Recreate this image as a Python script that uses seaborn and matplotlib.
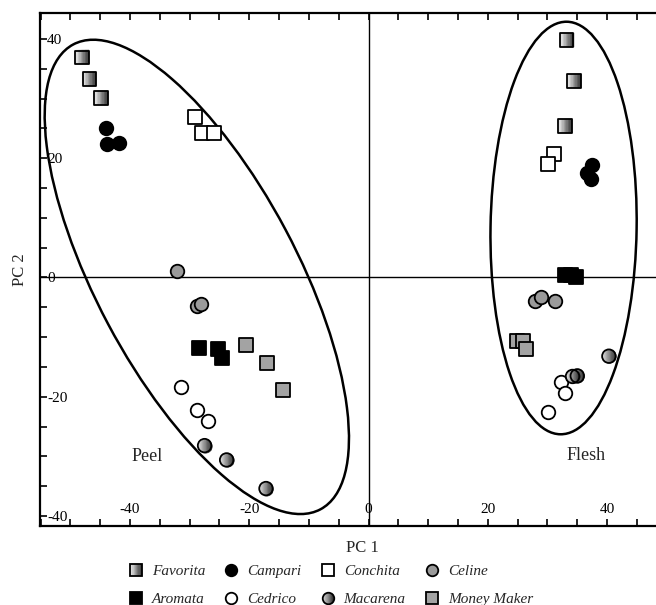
import numpy as np
import pandas as pd
import matplotlib
matplotlib.use("Agg")
import matplotlib.pyplot as plt
from matplotlib.path import Path
from matplotlib.patches import Ellipse
from matplotlib.lines import Line2D
from matplotlib.legend_handler import HandlerTuple
from matplotlib.ticker import MultipleLocator, FuncFormatter
import seaborn as sns

# PCA scores (peel cluster left, flesh cluster right)
favorita_x = [-48.0, -46.8, -44.9, 33.2, 34.5, 33.0]
favorita_y = [36.9, 33.3, 30.1, 39.9, 32.9, 25.4]
campari_x = [-44.1, -43.9, -41.9, 37.5, 36.6, 37.3]
campari_y = [25.0, 22.4, 22.5, 18.9, 17.6, 16.6]
conchita_x = [-29.1, -27.9, -26.0, 31.1, 30.1]
conchita_y = [27.0, 24.2, 24.2, 20.7, 19.0]
celine_x = [-32.2, -28.8, -28.1, 27.9, 28.9, 31.2]
celine_y = [1.1, -4.7, -4.4, -3.9, -3.3, -3.9]
aromata_x = [-28.4, -25.2, -24.5, 33.0, 34.0, 34.8]
aromata_y = [-11.9, -12.0, -13.5, 0.5, 0.4, 0.0]
cedrico_x = [-31.5, -28.8, -26.9, 32.2, 32.9, 30.1]
cedrico_y = [-18.3, -22.3, -24.0, -17.6, -19.4, -22.5]
macarena_x = [-27.5, -23.8, -17.2, 40.3, 34.2, 35.0]
macarena_y = [-28.2, -30.6, -35.4, -13.2, -16.6, -16.5]
moneymaker_x = [-20.5, -17.1, -14.4, 24.9, 25.9, 26.4]
moneymaker_y = [-11.3, -14.4, -18.8, -10.6, -10.6, -12.0]

varieties = ["Favorita", "Campari", "Conchita", "Celine",
             "Aromata", "Cedrico", "Macarena", "Money Maker"]
xs = [favorita_x, campari_x, conchita_x, celine_x,
      aromata_x, cedrico_x, macarena_x, moneymaker_x]
ys = [favorita_y, campari_y, conchita_y, celine_y,
      aromata_y, cedrico_y, macarena_y, moneymaker_y]

# marker, fill (None = gradient)
styles = {
    "Favorita": ("s", None),
    "Campari": ("o", "black"),
    "Conchita": ("s", "white"),
    "Celine": ("o", "#9a9a9a"),
    "Aromata": ("s", "black"),
    "Cedrico": ("o", "white"),
    "Macarena": ("o", None),
    "Money Maker": ("s", "#a3a3a3"),
}
gradients = {"Favorita": ("#f4f4f4", "#3a3a3a"), "Macarena": ("#d6d6d6", "#2a2a2a")}

df = pd.concat([pd.DataFrame({"variety": v, "PC1": x, "PC2": y})
                for v, x, y in zip(varieties, xs, ys)], ignore_index=True)


def stripe_paths(shape, n=10):
    # vertical slices of a square / circle marker, used to fake a gradient fill
    edges = np.linspace(-1, 1, n + 1)
    paths = []
    for x0, x1 in zip(edges[:-1], edges[1:]):
        if shape == "s":
            verts = [(x0, -1), (x1, -1), (x1, 1), (x0, 1)]
        else:
            xx = np.linspace(x0, x1, 8)
            top = np.sqrt(np.clip(1 - xx ** 2, 0, None))
            verts = list(zip(xx, top)) + list(zip(xx[::-1], -top[::-1]))
        # the lone anchor point keeps the same normalisation for all slices
        v = [(1, 1)] + verts + [verts[0]]
        codes = [Path.MOVETO, Path.MOVETO] + [Path.LINETO] * (len(verts) - 1) + [Path.CLOSEPOLY]
        paths.append(Path(v, codes))
    return paths


def stripe_colors(c0, c1, n=10):
    a = np.array(matplotlib.colors.to_rgb(c0))
    b = np.array(matplotlib.colors.to_rgb(c1))
    return [tuple(a + (b - a) * t) for t in np.linspace(0, 1, n)]


sns.set_style("ticks")
plt.rcParams["font.family"] = ["Liberation Serif", "DejaVu Serif"]

fig = plt.figure(figsize=(6.56, 6.05), dpi=100)
ax = fig.add_axes([40 / 656, 79 / 605, 616 / 656, 513 / 605])

ax.axhline(0, color="black", lw=1.0, zorder=0.5)
ax.axvline(0, color="black", lw=1.0, zorder=0.5)

ax.add_patch(Ellipse((-28.8, 0.1), 88.3, 33.7, angle=118, fill=False, lw=1.8, color="black", zorder=1.5))
ax.add_patch(Ellipse((32.7, 8.3), 69.2, 24.5, angle=89.1, fill=False, lw=1.8, color="black", zorder=1.5))

for v in varieties:
    sub = df[df["variety"] == v]
    marker, fill = styles[v]
    size = 100 if marker == "s" else 95
    if fill is None:
        c0, c1 = gradients[v]
        for p, c in zip(stripe_paths(marker), stripe_colors(c0, c1)):
            sns.scatterplot(data=sub, x="PC1", y="PC2", marker=p, s=size, color=c,
                            edgecolor=c, linewidth=0.3, ax=ax, legend=False, zorder=2)
        sns.scatterplot(data=sub, x="PC1", y="PC2", marker=marker, s=size, facecolor="none",
                        edgecolor="black", linewidth=1.3, ax=ax, legend=False, zorder=2)
    else:
        sns.scatterplot(data=sub, x="PC1", y="PC2", marker=marker, s=size, color=fill,
                        edgecolor="black", linewidth=1.3, ax=ax, legend=False, zorder=2)

ax.text(-37.2, -30.0, "Peel", fontsize=13, ha="center", va="center")
ax.text(36.5, -29.9, "Flesh", fontsize=13, ha="center", va="center")

ax.set_xlim(-55.1, 48.2)
ax.set_ylim(-41.68, 44.36)
fmt = FuncFormatter(lambda val, pos: str(int(round(val))) if int(round(val)) % 20 == 0 else "")
for axis in (ax.xaxis, ax.yaxis):
    axis.set_major_locator(MultipleLocator(5))
    axis.set_major_formatter(fmt)
ax.tick_params(direction="in", length=5, width=1.2, top=True, right=False, labelsize=11, colors="black")
ax.tick_params(axis="y", pad=-5)
ax.tick_params(axis="x", pad=-7)
plt.setp(ax.get_yticklabels(), ha="left")
plt.setp(ax.get_xticklabels(), va="bottom")
for side in ("left", "bottom", "top"):
    ax.spines[side].set_linewidth(1.6)
    ax.spines[side].set_color("black")
ax.spines["right"].set_visible(False)

ax.set_xlabel("PC 1", fontsize=12)
ax.set_ylabel("PC 2", fontsize=12)
ax.xaxis.set_label_coords(0.524, -0.043)
ax.xaxis.label.set_va("center")
ax.yaxis.set_label_coords(-0.0325, 0.499)
ax.yaxis.label.set_va("center")

# legend, column-major order for ncol=4
handles = {}
for v in varieties:
    marker, fill = styles[v]
    ms = 8.6 if marker == "s" else 8.3
    if fill is None:
        c0, c1 = gradients[v]
        parts = [Line2D([], [], ls="none", marker=p, markersize=ms, markerfacecolor=c,
                        markeredgecolor=c, markeredgewidth=0.3)
                 for p, c in zip(stripe_paths(marker), stripe_colors(c0, c1))]
        parts.append(Line2D([], [], ls="none", marker=marker, markersize=ms, markerfacecolor="none",
                            markeredgecolor="black", markeredgewidth=1.3))
        handles[v] = tuple(parts)
    else:
        handles[v] = Line2D([], [], ls="none", marker=marker, markersize=ms, markerfacecolor=fill,
                            markeredgecolor="black", markeredgewidth=1.3)
order = ["Favorita", "Aromata", "Campari", "Cedrico", "Conchita", "Macarena", "Celine", "Money Maker"]
fig.legend([handles[v] for v in order], order, ncol=4, loc="upper left",
           bbox_to_anchor=(0.197, 0.067), frameon=False, borderpad=0, borderaxespad=0,
           handlelength=0.9, handletextpad=0.6, columnspacing=1.25, labelspacing=0.95,
           prop={"style": "italic", "size": 11},
           handler_map={tuple: HandlerTuple(ndivide=1, pad=0)})

fig.savefig("out.png", dpi=100)
